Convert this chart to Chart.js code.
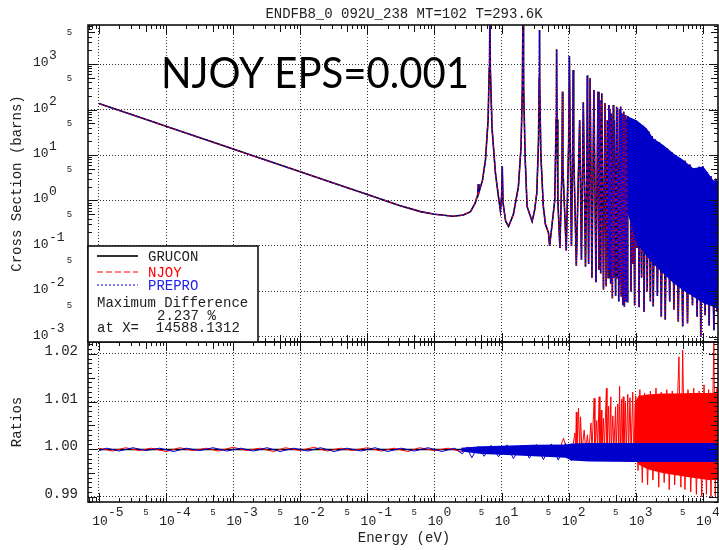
<!DOCTYPE html>
<html>
<head>
<meta charset="utf-8">
<script src="https://cdn.jsdelivr.net/npm/chart.js@4.4.0/dist/chart.umd.min.js"></script>
<style>
html, body { margin: 0; padding: 0; background: #fff; overflow: hidden; }
</style>
</head>
<body>
<canvas id="c" width="719" height="550"></canvas>
<script>
// tick labels
var xDecades = [-5, -4, -3, -2, -1, 0, 1, 2, 3, 4];
var yDecades = [-3, -2, -1, 0, 1, 2, 3];
var ratioTicks = [0.99, 1.00, 1.01, 1.02];
var ratioLabels = ['0.99', '1.00', '1.01', '1.02'];

// cross section, 1/v part and first resonances (eV, barns)
var eLow = [1e-5, 1e-3, 0.1, 0.3, 0.62, 1.0, 1.9, 2.7, 3.44, 4.0, 4.4, 4.5, 4.6, 5.2, 5.75, 6.3, 6.55, 6.67, 6.8, 7.2,
            8.1, 9.0, 9.6, 10.0, 10.24, 10.5, 11.5, 12.7, 15, 17.8, 19.5, 20.4, 20.87, 21.3, 22.5, 24, 28.5, 31,
            33.5, 35.5, 36.3, 36.68, 37.1, 38.5, 41.9, 45, 50];
var sLow = [135, 13.5, 1.35, 0.78, 0.57, 0.50, 0.45, 0.48, 0.57, 0.85, 1.3, 2.3, 1.5, 2.8, 7.8, 59, 800, 20000, 800, 40,
            4.0, 1.2, 0.6, 1.2, 5.6, 0.9, 0.35, 0.27, 0.5, 2.0, 15, 300, 20000, 300, 8, 0.74, 0.35, 0.6,
            1.47, 20, 500, 5600, 400, 10, 0.74, 0.3, 0.195];

// resolved resonances 50 eV - 700 eV
var eRes = [52, 62, 65, 66.03, 67, 69, 74, 79.5, 80.75, 82, 92, 100, 102.56, 105, 110, 115, 116.9, 119, 130,
            145.66, 155, 165.29, 178, 187, 189.67, 192, 198, 208.51, 222, 237.38, 255, 273.66, 283, 291, 300,
            311.3, 330, 347.8, 362, 376.9, 388, 397.6, 404, 410.2, 422, 434, 448, 463, 470, 478.5, 500, 518.4,
            527, 535.3, 557, 580.2, 588, 594.9, 607, 619.9, 640, 661.1, 677, 693.1, 710];
var sRes = [0.1, 1.0, 60, 2100, 60, 1.0, 0.09, 5, 245, 5, 0.08, 20, 1500, 20, 0.1, 20, 740, 10, 0.037,
            59, 0.05, 145, 0.035, 10, 560, 8, 0.04, 485, 0.02, 268, 0.016, 245, 0.03, 162, 0.025,
            227, 0.011, 137, 0.013, 59, 0.02, 126, 0.03, 97, 0.015, 82, 0.0071, 126, 0.02, 59, 0.008, 115,
            0.02, 106, 0.006, 97, 0.015, 115, 0.008, 82, 0.005, 89, 0.0046, 76, 0.006];

// dense part 730 eV - 17 keV
var eDense = [730, 745, 760, 790, 820, 850, 880, 905, 925, 960, 1000, 1040, 1080, 1120, 1160, 1220, 1280, 1330,
              1400, 1480, 1560, 1650, 1740, 1820, 1950, 2100, 2250, 2400, 2570, 2750, 2950, 3200, 3450, 3700,
              4000, 4300, 4600, 5000, 5400, 5900, 6400, 7000, 7500, 8200, 8800, 9300, 10000, 10800, 11600,
              12400, 13200, 14600, 15500, 16300, 17400];
var sDense = [65, 0.006, 72, 0.5, 60, 0.01, 62, 0.04, 55, 0.005, 58, 0.09, 52, 0.0045, 46, 0.02, 44, 0.0036,
              38, 0.01, 33, 0.006, 26, 0.0047, 22, 0.008, 19, 0.0028, 16, 0.0024, 14, 0.006, 11.5, 0.004,
              10, 0.0022, 8.5, 0.0017, 7.5, 0.002, 6.2, 0.005, 5.2, 0.0028, 5.5, 0.001, 5.6, 0.003, 4.2,
              0.0018, 3.4, 0.0014, 3.0, 0.0036, 2.7];

// solid envelope of the dense part
var eBand = [730, 766, 1030, 1450, 1820, 2570, 3620, 5100, 7190, 10140, 14300, 17400];
var bandHi = [66, 70, 58, 38.6, 23.3, 16.6, 10.9, 7.8, 5.1, 5.6, 2.8, 2.7];
var bandLo = [50, 0.5, 0.116, 0.06, 0.04, 0.025, 0.0154, 0.0105, 0.0077, 0.0055, 0.0046, 0.0039];

// ratios
var blackE = [1e-5, 17400];
var blackV = [0.9999, 0.9999];

var redE = [1e-5, 1.6e-5, 2.5e-5, 4e-5, 6e-5, 1e-4, 1.6e-4, 2.5e-4, 4e-4, 6e-4, 1e-3, 1.6e-3, 2.5e-3, 4e-3, 6e-3,
            1e-2, 1.6e-2, 2.5e-2, 4e-2, 6e-2, 0.1, 0.16, 0.25, 0.4, 0.6, 1, 1.6, 2.5, 3.2, 4, 5, 6.5, 8, 10, 13,
            17, 22, 28, 35, 45, 55, 70, 84, 95,
            105, 112, 124, 127, 130, 133, 140, 146, 150, 158, 170, 180, 190, 200, 215, 222, 240, 246, 262, 270,
            285, 292, 305, 312, 330, 340, 365, 372, 395, 405, 425, 432, 455, 470, 500, 508, 540, 552, 575, 585,
            615, 625, 650, 665, 700, 720, 760, 780, 820, 850, 900, 930,
            1000, 1080, 1150, 1250, 1350, 1500, 1650, 1800, 2000, 2200, 2400, 2650, 2900, 3150, 3500, 3800,
            4400, 4700, 5000, 5400, 6000, 6600, 7300, 8000, 8800, 9600, 10400, 11300, 12200, 13200, 14588,
            15300, 16200, 17400];
var redV = [1.0002, 0.9996, 1.0003, 0.9997, 1.0002, 0.9995, 1.0003, 0.9997, 1.0002, 0.9996, 1.0004, 0.9997, 1.0002,
            0.9995, 1.0003, 0.9997, 1.0004, 0.9996, 1.0002, 0.9997, 1.0003, 0.9996, 1.0002, 0.9995, 1.0003, 0.9997,
            1.0002, 0.9995, 1.0004, 0.9994, 1.0005, 0.9994, 1.0005, 0.9993, 1.0006, 0.9994, 1.0005, 0.9993, 1.0007,
            0.9993, 1.0006, 0.9993, 1.0023, 0.9995,
            1.0008, 0.9995, 1.0034, 0.9998, 1.0078, 0.9996, 1.0086, 0.9997, 1.0068, 0.9996, 1.004, 0.9997, 1.003,
            0.9996, 1.0055, 0.9997, 1.0107, 0.9996, 1.006, 0.9997, 1.011, 0.9996, 1.0082, 0.9997, 1.0065, 0.9996,
            1.0128, 0.9997, 1.009, 0.9996, 1.011, 0.9996, 1.007, 0.9997, 1.0089, 0.9996, 1.0095, 0.9997, 1.0132,
            0.9996, 1.0105, 0.9997, 1.011, 0.9995, 1.0098, 0.9993, 1.0115, 0.999, 1.0108, 0.9985, 1.012, 0.998,
            1.0112, 0.9955, 1.0125, 0.993, 1.0118, 0.9925, 1.0122, 0.9935, 1.0128, 0.992, 1.012, 0.993, 1.0125,
            0.9915, 1.0122, 0.9925, 1.0194, 0.992, 1.0208, 0.9915, 1.0125, 0.991, 1.0128, 0.9905, 1.0122, 0.99,
            1.0135, 0.9905, 1.0125, 0.99, 1.02237, 0.9902, 1.0128, 0.9915];
var redBandE = [950, 1100, 1500, 2500, 4000, 7000, 12000, 17400];
var redBandHi = [1.0095, 1.0112, 1.0115, 1.0117, 1.0117, 1.0118, 1.0118, 1.0118];
var redBandLo = [0.9985, 0.9968, 0.9958, 0.995, 0.9945, 0.994, 0.9935, 0.9935];

var blueE = [1e-5, 1.3e-5, 2e-5, 3.2e-5, 5e-5, 8e-5, 1.3e-4, 2e-4, 3.2e-4, 5e-4, 8e-4, 1.3e-3, 2e-3, 3.2e-3, 5e-3,
             8e-3, 1.3e-2, 2e-2, 3.2e-2, 5e-2, 8e-2, 0.13, 0.2, 0.32, 0.5, 0.8, 1.3, 2, 2.6, 3, 3.6, 4.5, 5.5, 7,
             9, 12, 15, 20, 26, 33, 42, 55, 70, 90, 110];
var blueV = [0.9997, 1.0002, 0.9996, 1.0003, 0.9997, 1.0002, 0.9995, 1.0002, 0.9997, 1.0003, 0.9996, 1.0002, 0.9996,
             1.0003, 0.9995, 1.0002, 0.9996, 1.0003, 0.9995, 1.0002, 0.9996, 1.0003, 0.9995, 1.0002, 0.9996, 1.0003,
             0.9995, 1.0002, 0.999, 1.0004, 0.9982, 1.0006, 0.9985, 1.0008, 0.9984, 1.0009, 0.998, 1.0008, 0.9981,
             1.001, 0.9978, 1.0011, 0.9977, 1.0012, 0.9975];
var blueBandE = [2.5, 5, 10, 30, 90, 110, 200, 1000, 17400];
var blueBandHi = [1.0003, 1.0006, 1.0007, 1.0009, 1.001, 1.0012, 1.0013, 1.0013, 1.0013];
var blueBandLo = [0.9995, 0.999, 0.9988, 0.9985, 0.9982, 0.9976, 0.9974, 0.9973, 0.9973];

var X_MIN = 6.86e-6, X_MAX = 16800;
var Y_MIN = 7.76e-4, Y_MAX = 7200;
var R_MIN = 0.9889, R_MAX = 1.0225;

var MONO = '"Liberation Mono", "DejaVu Sans Mono", monospace';

function pts(xs, ys) {
  return xs.map(function(x, i) { return {x: x, y: ys[i]}; });
}

function line(data, axis, color, width, dash, order) {
  return {data: data, yAxisID: axis, borderColor: color, borderWidth: width, borderDash: dash || [],
          pointRadius: 0, fill: false, tension: 0, order: order};
}

function band(data, axis, color, order, fillIt) {
  return {data: data, yAxisID: axis, borderColor: 'rgba(0,0,0,0)', borderWidth: 1, backgroundColor: color,
          pointRadius: 0, fill: fillIt ? '+1' : false, tension: 0, order: order};
}

function logTicks(lo, hi) {
  var out = [];
  for (var p = -7; p <= 5; p++) {
    for (var k = 1; k <= 9; k++) {
      var v = k * Math.pow(10, p);
      if (v >= lo && v <= hi) out.push({v: v, len: k == 1 ? 9 : (k == 5 ? 7 : 4)});
    }
  }
  return out;
}

function isDecade(v) {
  var l = Math.log10(v);
  return Math.abs(l - Math.round(l)) < 1e-6;
}

function seg(ctx, x1, y1, x2, y2) {
  ctx.beginPath(); ctx.moveTo(x1, y1); ctx.lineTo(x2, y2); ctx.stroke();
}

var deco = {
  id: 'deco',
  afterDraw: function(chart) {
    var ctx = chart.ctx;
    var xs = chart.scales.x, ys = chart.scales.y, rs = chart.scales.y2;
    var L = chart.chartArea.left, R = chart.chartArea.right;
    var yT = ys.top, yM = ys.bottom, yB = rs.bottom;
    ctx.save();

    // inward ticks
    ctx.strokeStyle = '#111';
    ctx.lineWidth = 1;
    logTicks(xs.min, xs.max).forEach(function(t) {
      var px = Math.round(xs.getPixelForValue(t.v)) + 0.5;
      seg(ctx, px, yT, px, yT + t.len);
      seg(ctx, px, yM - t.len, px, yM + t.len);
      seg(ctx, px, yB - t.len, px, yB);
    });
    logTicks(ys.min, ys.max).forEach(function(t) {
      var py = Math.round(ys.getPixelForValue(t.v)) + 0.5;
      seg(ctx, L, py, L + t.len, py);
      seg(ctx, R - t.len, py, R, py);
    });
    for (var i = -1; i <= 32; i++) {
      var v = 0.99 + i * 0.001;
      if (v < rs.min || v > rs.max) continue;
      var len = (i % 10 == 0) ? 9 : (i % 5 == 0 ? 7 : 4);
      var py = Math.round(rs.getPixelForValue(v)) + 0.5;
      seg(ctx, L, py, L + len, py);
      seg(ctx, R - len, py, R, py);
    }

    // panel frames
    ctx.lineWidth = 1.6;
    ctx.strokeRect(L, yT, R - L, yM - yT);
    ctx.strokeRect(L, yM, R - L, yB - yM);

    // legend box
    var bx = L, by = yM - 96;
    ctx.fillStyle = '#fff';
    ctx.fillRect(bx, by, 170, 96);
    ctx.strokeRect(bx, by, 170, 96);
    ctx.lineWidth = 2; ctx.strokeStyle = '#333';
    seg(ctx, bx + 9, by + 10, bx + 50, by + 10);
    ctx.lineWidth = 1.2; ctx.strokeStyle = '#ff0000'; ctx.setLineDash([6, 3]);
    seg(ctx, bx + 9, by + 26, bx + 50, by + 26);
    ctx.strokeStyle = '#2222ee'; ctx.setLineDash([2, 2]);
    seg(ctx, bx + 9, by + 39, bx + 50, by + 39);
    ctx.setLineDash([]);
    ctx.font = '14px ' + MONO;
    ctx.textAlign = 'left';
    ctx.textBaseline = 'alphabetic';
    ctx.fillStyle = '#222'; ctx.fillText('GRUCON', bx + 60, by + 15);
    ctx.fillStyle = '#ff0000'; ctx.fillText('NJOY', bx + 60, by + 30.5);
    ctx.fillStyle = '#2222ee'; ctx.fillText('PREPRO', bx + 60, by + 44);
    ctx.fillStyle = '#222';
    ctx.fillText('Maximum Difference', bx + 9, by + 60.5);
    ctx.fillText('2.237 %', bx + 69, by + 74);
    ctx.fillText('at X=  14588.1312', bx + 9, by + 85.5);

    // x tick labels
    ctx.fillStyle = '#222';
    xDecades.forEach(function(p) {
      var px = xs.getPixelForValue(Math.pow(10, p));
      ctx.font = '13px ' + MONO;
      ctx.textAlign = 'center';
      ctx.fillText('10', px + 1, 525);
      ctx.textAlign = 'left';
      ctx.fillText(String(p), px + 9, 516);
      var v5 = 5 * Math.pow(10, p);
      if (v5 < xs.max) {
        ctx.font = '9px ' + MONO;
        ctx.textAlign = 'center';
        ctx.fillText('5', xs.getPixelForValue(v5), 515);
      }
    });

    // y tick labels
    yDecades.forEach(function(p) {
      var py = ys.getPixelForValue(Math.pow(10, p));
      ctx.font = '13px ' + MONO;
      ctx.textAlign = 'left';
      ctx.fillText('10', 33, py + 2);
      ctx.fillText(String(p), 49, py - 5);
      var v5 = 5 * Math.pow(10, p);
      if (v5 < ys.max && v5 > ys.min) {
        ctx.font = '9px ' + MONO;
        ctx.textAlign = 'center';
        ctx.fillText('5', 69.5, ys.getPixelForValue(v5) + 3);
      }
    });
    ctx.font = '14px ' + MONO;
    ctx.textAlign = 'right';
    ratioTicks.forEach(function(v, i) {
      ctx.fillText(ratioLabels[i], 78, rs.getPixelForValue(v) + 1);
    });

    // titles
    ctx.textAlign = 'center';
    ctx.fillText('ENDFB8_0 092U_238 MT=102 T=293.6K', 404, 18);
    ctx.fillText('Energy (eV)', 404, 542);
    ctx.save();
    ctx.translate(17, (yT + yM) / 2);
    ctx.rotate(-Math.PI / 2);
    ctx.textBaseline = 'middle';
    ctx.fillText('Cross Section (barns)', 0, 0);
    ctx.restore();
    ctx.save();
    ctx.translate(17, (yM + yB) / 2);
    ctx.rotate(-Math.PI / 2);
    ctx.textBaseline = 'middle';
    ctx.fillText('Ratios', 0, 0);
    ctx.restore();

    // slide annotation
    ctx.font = '43px Lato, "Open Sans", sans-serif';
    ctx.fillStyle = '#000';
    ctx.textAlign = 'left';
    var txt = 'NJOY EPS=0.001';
    var w = ctx.measureText(txt).width;
    ctx.translate(161, 87.5);
    ctx.scale(308 / w, 1);
    ctx.fillText(txt, 0, 0);
    ctx.restore();
  }
};

var gridOpts = {color: '#333', lineWidth: 1, drawTicks: false};

var chart = new Chart(document.getElementById('c'), {
  type: 'line',
  data: {
    datasets: [
      // dense envelope, drawn above the lines like the last plotted curve
      band(pts(eBand, bandHi), 'y', '#0000c8', 1, true),
      band(pts(eBand, bandLo), 'y', '#0000c8', 2, false),
      line(pts(eLow.concat(eRes, eDense), sLow.concat(sRes, sDense)), 'y', '#000', 1.6, null, 12),
      line(pts(eLow.concat(eRes, eDense), sLow.concat(sRes, sDense)), 'y', '#ff0000', 1.2, [4, 2], 11),
      line(pts(eLow.concat(eRes, eDense), sLow.concat(sRes, sDense)), 'y', '#0000ee', 1.2, [1.5, 1.5], 10),
      line(pts(blackE, blackV), 'y2', '#000', 1.5, null, 20),
      band(pts(redBandE, redBandHi), 'y2', '#ff0000', 19, true),
      band(pts(redBandE, redBandLo), 'y2', '#ff0000', 19.5, false),
      line(pts(redE, redV), 'y2', '#ff0000', 1, null, 18),
      band(pts(blueBandE, blueBandHi), 'y2', '#0000cc', 17, true),
      band(pts(blueBandE, blueBandLo), 'y2', '#0000cc', 17.5, false),
      line(pts(blueE, blueV), 'y2', '#0000cc', 1, null, 16)
    ]
  },
  options: {
    responsive: false,
    animation: false,
    layout: {padding: {left: 88, right: 1, top: 25, bottom: 48}},
    plugins: {legend: {display: false}, tooltip: {enabled: false}},
    scales: {
      x: {
        type: 'logarithmic', min: X_MIN, max: X_MAX, bounds: 'data',
        ticks: {display: false},
        grid: {lineWidth: 1, drawTicks: false,
               color: function(c) { return c.tick && isDecade(c.tick.value) ? '#333' : 'rgba(0,0,0,0)'; }},
        border: {display: false, dash: [1, 2]},
        afterFit: function(s) { s.height = 0; }
      },
      y2: {
        type: 'linear', position: 'left', stack: 'panels', stackWeight: 160,
        min: R_MIN, max: R_MAX, bounds: 'data',
        ticks: {display: false}, grid: gridOpts, border: {display: false, dash: [1, 2]},
        afterBuildTicks: function(s) { s.ticks = ratioTicks.map(function(v) { return {value: v}; }); },
        afterFit: function(s) { s.width = 0; }
      },
      y: {
        type: 'logarithmic', position: 'left', stack: 'panels', stackWeight: 317,
        min: Y_MIN, max: Y_MAX, bounds: 'data',
        ticks: {display: false}, grid: gridOpts, border: {display: false, dash: [1, 2]},
        afterBuildTicks: function(s) { s.ticks = yDecades.map(function(p) { return {value: Math.pow(10, p)}; }); },
        afterFit: function(s) { s.width = 0; }
      }
    }
  },
  plugins: [deco]
});
</script>
</body>
</html>
